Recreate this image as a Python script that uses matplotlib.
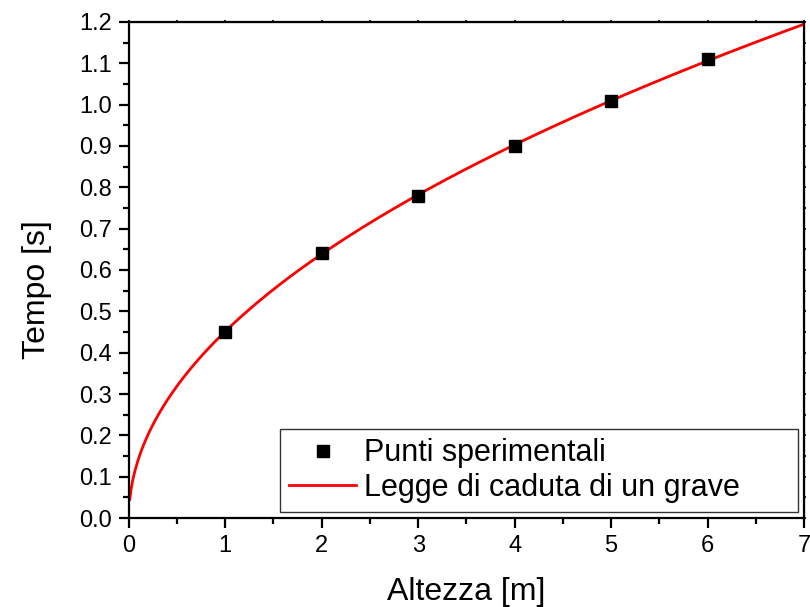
import numpy as np
import matplotlib
matplotlib.use("Agg")
import matplotlib.pyplot as plt
from matplotlib.ticker import MultipleLocator, FormatStrFormatter

altezza = [1, 2, 3, 4, 5, 6]
tempo = [0.45, 0.64, 0.78, 0.90, 1.01, 1.11]

# Free-fall law t = sqrt(2h/g)
g = 9.81
h_start, h_end = 0.01, 7.0

plt.rcParams["font.family"] = ["Liberation Sans", "DejaVu Sans"]

fig = plt.figure(figsize=(8.1, 6.07), dpi=100)
ax = fig.add_axes([0.159, 0.1466, 0.8336, 0.8172])

h = np.linspace(h_start, h_end, 500)
ax.plot(h, np.sqrt(2 * h / g), color="#ff0000", lw=2,
        label="Legge di caduta di un grave", zorder=2)
ax.plot(altezza, tempo, ls="none", marker="s", ms=8, color="black",
        label="Punti sperimentali", zorder=3)

ax.set_xlim(0, 7)
ax.set_ylim(0, 1.2)
ax.xaxis.set_major_locator(MultipleLocator(1))
ax.xaxis.set_minor_locator(MultipleLocator(0.5))
ax.yaxis.set_major_locator(MultipleLocator(0.1))
ax.yaxis.set_minor_locator(MultipleLocator(0.05))
ax.yaxis.set_major_formatter(FormatStrFormatter("%.1f"))

for s in ax.spines.values():
    s.set_linewidth(1.6)
ax.tick_params(which="both", direction="out", width=1.6, labelsize=17)
ax.tick_params(which="major", length=7.2, pad=5)
ax.tick_params(which="minor", length=4)

# mirrored top/right axes with tiny ticks
sec_x = ax.secondary_xaxis("top")
sec_x.xaxis.set_major_locator(MultipleLocator(0.5))
sec_x.tick_params(length=1.5, width=1.2, labeltop=False)
sec_y = ax.secondary_yaxis("right")
sec_y.yaxis.set_major_locator(MultipleLocator(0.05))
sec_y.tick_params(length=1.5, width=1.2, labelright=False)

ax.set_xlabel("Altezza [m]", fontsize=23)
ax.set_ylabel("Tempo [s]", fontsize=23)
ax.xaxis.set_label_coords(0.5, -0.118)
ax.yaxis.set_label_coords(-0.114, 0.46)

handles, labels = ax.get_legend_handles_labels()
leg = ax.legend(handles[::-1], labels[::-1], loc="lower left",
                bbox_to_anchor=(0.2237, 0.012, 0.767, 0.1875), mode="expand",
                borderaxespad=0, fontsize=22, fancybox=False,
                edgecolor="black", handlelength=2.2, handletextpad=0.25,
                labelspacing=0.15, borderpad=0.3, markerscale=1.15)
leg.get_frame().set_linewidth(1.0)

fig.savefig("out.png", dpi=100)
